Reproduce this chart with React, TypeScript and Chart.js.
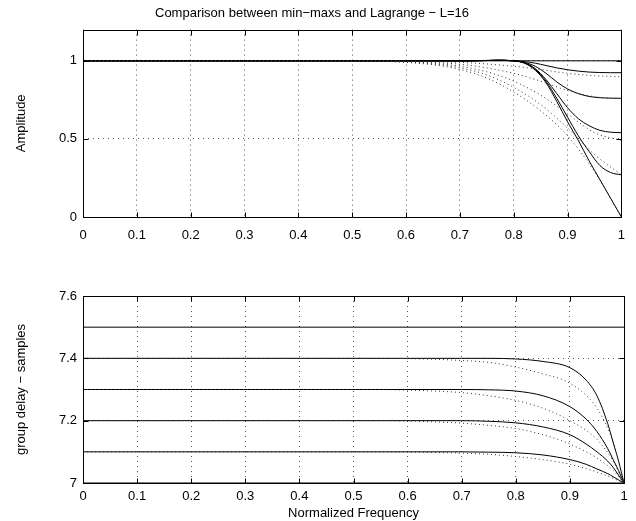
import React, { useEffect, useRef } from "react";
import { Chart, registerables } from "chart.js";
Chart.register(...registerables);

const FONT = "'Liberation Sans', Arial, Helvetica, sans-serif";

const titleText = "Comparison between min\u2212maxs and Lagrange \u2212 L=16";
const ampAxisTitle = "Amplitude";
const delayAxisTitle = "group delay \u2212 samples";
const xAxisTitle = "Normalized Frequency";

const ampTicks = [0, 0.5, 1];
const delayTicks = [7, 7.2, 7.4, 7.6];

// ---- Amplitude, min-max (solid) ----
const flatFreq = [0, 1];
const ampD70 = [1, 1];
const mmAmpFreq = [0, 0.72, 0.77, 0.8, 0.82, 0.84, 0.86, 0.88, 0.9, 0.92, 0.94, 0.96, 0.98, 1];
const mmAmpD71 = [1, 1, 1.003, 1.0, 0.995, 0.985, 0.97, 0.955, 0.943, 0.934, 0.928, 0.925, 0.924, 0.924];
const mmAmpD72 = [1, 1, 1.003, 1.0, 0.99, 0.965, 0.92, 0.865, 0.82, 0.79, 0.772, 0.764, 0.761, 0.76];
const mmAmpD73 = [1, 1, 1.004, 1.0, 0.988, 0.95, 0.88, 0.79, 0.7, 0.63, 0.585, 0.555, 0.543, 0.54];
const mmAmpD74 = [1, 1, 1.004, 1.0, 0.986, 0.945, 0.87, 0.76, 0.64, 0.52, 0.42, 0.33, 0.285, 0.27];
const mmAmpD75 = [1, 1, 1.004, 1.0, 0.985, 0.94, 0.86, 0.74, 0.61, 0.49, 0.36, 0.24, 0.12, 0];

// ---- Amplitude, Lagrange (dotted) ----
const lgAmpFreq = [0, 0.5, 0.55, 0.6, 0.65, 0.7, 0.75, 0.8, 0.85, 0.9, 0.95, 1];
const lgAmpD71 = [1, 1, 1, 0.998, 0.995, 0.99, 0.98, 0.965, 0.945, 0.92, 0.905, 0.898];
const lgAmpD72 = [1, 1, 1, 0.996, 0.99, 0.978, 0.955, 0.92, 0.87, 0.81, 0.77, 0.758];
const lgAmpD73 = [1, 1, 0.998, 0.994, 0.985, 0.965, 0.93, 0.87, 0.78, 0.66, 0.54, 0.49];
const lgAmpD74 = [1, 1, 0.999, 0.992, 0.98, 0.955, 0.91, 0.83, 0.72, 0.57, 0.4, 0.27];
const lgAmpD75 = [1, 1, 0.998, 0.99, 0.975, 0.945, 0.89, 0.8, 0.68, 0.52, 0.29, 0];

// ---- Group delay, min-max (solid) ----
const gdD70 = [7, 7];
const gdD75 = [7.5, 7.5];
const mmGdFreq = [0, 0.7, 0.75, 0.8, 0.85, 0.9, 0.93, 0.95, 0.97, 0.98, 0.99, 1];
const mmGdD71 = [7.1, 7.1, 7.099, 7.097, 7.09, 7.075, 7.06, 7.045, 7.03, 7.02, 7.01, 7.0];
const mmGdD72 = [7.2, 7.2, 7.198, 7.193, 7.18, 7.155, 7.125, 7.1, 7.07, 7.05, 7.025, 7.0];
const mmGdD73 = [7.3, 7.3, 7.299, 7.295, 7.28, 7.245, 7.205, 7.165, 7.11, 7.075, 7.04, 7.0];
const mmGdD74 = [7.4, 7.4, 7.4, 7.398, 7.39, 7.37, 7.33, 7.28, 7.19, 7.13, 7.07, 7.0];

// ---- Group delay, Lagrange (dotted) ----
const lgGdFreq = [0, 0.55, 0.6, 0.65, 0.7, 0.75, 0.8, 0.85, 0.9, 0.95, 0.98, 1];
const lgGdD71 = [7.1, 7.1, 7.099, 7.098, 7.096, 7.092, 7.085, 7.075, 7.06, 7.035, 7.015, 7.0];
const lgGdD72 = [7.2, 7.2, 7.199, 7.196, 7.192, 7.185, 7.175, 7.155, 7.125, 7.08, 7.04, 7.0];
const lgGdD73 = [7.3, 7.3, 7.298, 7.295, 7.29, 7.28, 7.265, 7.24, 7.2, 7.14, 7.07, 7.0];
const lgGdD74 = [7.4, 7.4, 7.399, 7.397, 7.393, 7.387, 7.372, 7.35, 7.32, 7.24, 7.13, 7.0];

const pts = (xs: number[], ys: number[]) => xs.map((x, i) => ({ x, y: ys[i] }));
const solid = (xs: number[], ys: number[]) => ({
  data: pts(xs, ys),
  borderColor: "#000",
  borderWidth: 1,
  pointRadius: 0,
  cubicInterpolationMode: "monotone" as const,
});
const dotted = (xs: number[], ys: number[]) => ({
  ...solid(xs, ys),
  borderColor: "#333",
  borderDash: [1, 3],
});

const framePlugin = {
  id: "frame",
  afterDraw(chart: any) {
    const { ctx, chartArea, scales } = chart;
    const left = Math.round(chartArea.left) + 0.5;
    const right = Math.round(chartArea.right) + 0.5;
    const top = Math.round(chartArea.top) + 0.5;
    const bottom = Math.round(chartArea.bottom) + 0.5;
    ctx.save();
    ctx.setLineDash([]);
    ctx.strokeStyle = "#000";
    ctx.lineWidth = 1;
    ctx.beginPath();
    ctx.rect(left, top, right - left, bottom - top);
    const tl = 5;
    scales.x.ticks.forEach((t: any) => {
      const px = Math.round(scales.x.getPixelForValue(t.value)) + 0.5;
      ctx.moveTo(px, bottom);
      ctx.lineTo(px, bottom - tl);
      ctx.moveTo(px, top);
      ctx.lineTo(px, top + tl);
    });
    scales.y.ticks.forEach((t: any) => {
      const py = Math.round(scales.y.getPixelForValue(t.value)) + 0.5;
      ctx.moveTo(left, py);
      ctx.lineTo(left + tl, py);
      ctx.moveTo(right, py);
      ctx.lineTo(right - tl, py);
    });
    ctx.stroke();
    ctx.restore();
  },
};

const tickFont = { family: FONT, size: 13 };
const fmt = (v: any) => String(Math.round(Number(v) * 100) / 100);

function xScale(withTitle: boolean, height: number, pad: number) {
  return {
    type: "linear" as const,
    min: 0,
    max: 1,
    ticks: { stepSize: 0.1, color: "#000", font: tickFont, padding: pad, maxRotation: 0, autoSkip: false, callback: fmt },
    grid: { color: "#555", lineWidth: 1, drawTicks: false },
    border: { display: false, dash: [1, 4] },
    title: {
      display: withTitle,
      text: xAxisTitle,
      color: "#000",
      font: tickFont,
      padding: { top: 0, bottom: 0 },
    },
    afterFit: (s: any) => {
      s.height = height;
    },
  };
}

function yScale(min: number, max: number, ticks: number[], title: string) {
  return {
    type: "linear" as const,
    min,
    max,
    afterBuildTicks: (s: any) => {
      s.ticks = ticks.map((v) => ({ value: v }));
    },
    ticks: { color: "#000", font: tickFont, padding: 6, callback: fmt },
    grid: { color: "#555", lineWidth: 1, drawTicks: false },
    border: { display: false, dash: [1, 4] },
    title: {
      display: true,
      text: title,
      color: "#000",
      font: tickFont,
      padding: { top: 14, bottom: 0 },
    },
    afterFit: (s: any) => {
      s.width = 83;
    },
  };
}

export default function App() {
  const topRef = useRef<HTMLCanvasElement>(null);
  const botRef = useRef<HTMLCanvasElement>(null);

  useEffect(() => {
    const top = new Chart(topRef.current!, {
      type: "line",
      data: {
        datasets: [
          dotted(lgAmpFreq, lgAmpD71),
          dotted(lgAmpFreq, lgAmpD72),
          dotted(lgAmpFreq, lgAmpD73),
          dotted(lgAmpFreq, lgAmpD74),
          dotted(lgAmpFreq, lgAmpD75),
          solid(flatFreq, ampD70),
          solid(mmAmpFreq, mmAmpD71),
          solid(mmAmpFreq, mmAmpD72),
          solid(mmAmpFreq, mmAmpD73),
          solid(mmAmpFreq, mmAmpD74),
          solid(mmAmpFreq, mmAmpD75),
        ] as any,
      },
      options: {
        animation: false,
        responsive: false,
        events: [],
        layout: { padding: { left: 0, right: 12, top: 0, bottom: 0 } },
        plugins: {
          legend: { display: false },
          tooltip: { enabled: false },
          title: {
            display: true,
            text: titleText,
            color: "#000",
            font: { family: FONT, size: 13, weight: "normal" },
            padding: { top: 6, bottom: 8 },
          },
        },
        scales: {
          x: xScale(false, 33, 11),
          y: yScale(0, 1.2, ampTicks, ampAxisTitle),
        } as any,
      },
      plugins: [framePlugin],
    });

    const bot = new Chart(botRef.current!, {
      type: "line",
      data: {
        datasets: [
          dotted(lgGdFreq, lgGdD71),
          dotted(lgGdFreq, lgGdD72),
          dotted(lgGdFreq, lgGdD73),
          dotted(lgGdFreq, lgGdD74),
          solid(flatFreq, gdD70),
          solid(flatFreq, gdD75),
          solid(mmGdFreq, mmGdD71),
          solid(mmGdFreq, mmGdD72),
          solid(mmGdFreq, mmGdD73),
          solid(mmGdFreq, mmGdD74),
        ] as any,
      },
      options: {
        animation: false,
        responsive: false,
        events: [],
        layout: { padding: { left: 0, right: 12, top: 36, bottom: 0 } },
        plugins: {
          legend: { display: false },
          tooltip: { enabled: false },
        },
        scales: {
          x: xScale(true, 38, 6),
          y: yScale(7, 7.6, delayTicks, delayAxisTitle),
        } as any,
      },
      plugins: [framePlugin],
    });

    return () => {
      top.destroy();
      bot.destroy();
    };
  }, []);

  return (
    <div style={{ position: "absolute", left: 0, top: 0, width: 636, height: 521, background: "#fff" }}>
      <canvas ref={topRef} width={636} height={250} style={{ position: "absolute", left: 0, top: 0 }} />
      <canvas ref={botRef} width={636} height={261} style={{ position: "absolute", left: 0, top: 260 }} />
    </div>
  );
}
